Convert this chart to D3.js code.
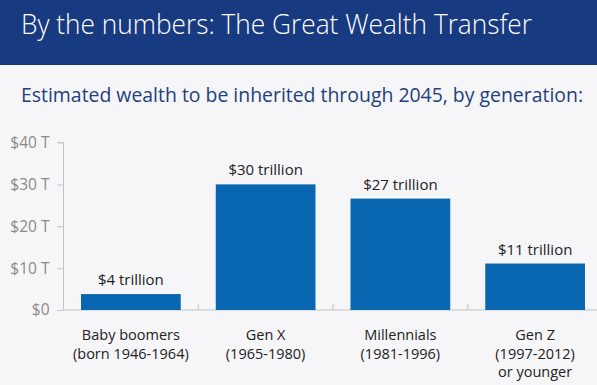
<!DOCTYPE html>
<html>
<head>
<meta charset="utf-8">
<script src="https://cdn.jsdelivr.net/npm/d3@7"></script>
<style>
  body { margin: 0; background: #f6f6f8; }
  svg { display: block; font-family: "Open Sans", "Noto Sans", sans-serif; }
</style>
</head>
<body>
<script>
// data
var categories = ["Baby boomers", "Gen X", "Millennials", "Gen Z"];
var categoryLines = [
  ["Baby boomers", "(born 1946-1964)"],
  ["Gen X", "(1965-1980)"],
  ["Millennials", "(1981-1996)"],
  ["Gen Z", "(1997-2012)", "or younger"]
];
var values = [3.8, 30, 26.6, 11.1];
var valueLabels = ["$4 trillion", "$30 trillion", "$27 trillion", "$11 trillion"];
var yTicks = [0, 10, 20, 30, 40];
var yTickLabels = ["$0", "$10 T", "$20 T", "$30 T", "$40 T"];

var width = 597,
  height = 385;
var margin = { top: 142.5, bottom: 75, left: 63.5, right: -5.5 };

var svg = d3.select('body')
  .append('svg')
  .attr('width', width)
  .attr('height', height)
  .style('background', '#f6f6f8');

// header band
svg.append('rect')
  .attr('x', 0).attr('y', 0)
  .attr('width', width).attr('height', 65)
  .attr('fill', '#183a80');

svg.append('text')
  .attr('x', 21).attr('y', 34)
  .attr('fill', '#ffffff')
  .style('font-size', '27px')
  .style('font-weight', 300)
  .attr('textLength', 511)
  .attr('lengthAdjust', 'spacingAndGlyphs')
  .text('By the numbers: The Great Wealth Transfer');

svg.append('text')
  .attr('x', 21).attr('y', 101.5)
  .attr('fill', '#233f7c')
  .style('font-size', '19.5px')
  .attr('textLength', 562)
  .attr('lengthAdjust', 'spacingAndGlyphs')
  .text('Estimated wealth to be inherited through 2045, by generation:');

// scales
var yScale = d3.scaleLinear()
  .domain([0, 40])
  .range([height - margin.bottom, margin.top]);

var xScale = d3.scaleBand()
  .domain(categories)
  .range([margin.left, width - margin.right])
  .paddingInner(0.26)
  .paddingOuter(0.13);

// y axis
var yAxis = svg.append('g')
  .attr('transform', `translate(${margin.left},0)`)
  .call(d3.axisLeft(yScale)
    .tickValues(yTicks)
    .tickSize(6)
    .tickPadding(8)
    .tickFormat(function(d, i) { return yTickLabels[i]; }));
yAxis.select('.domain').attr('stroke', '#c4c4c4').attr('d', `M-6,${yScale(40)}H0V${yScale(0)}`);
yAxis.selectAll('.tick line').attr('stroke', '#c4c4c4');
yAxis.selectAll('.tick text')
  .attr('fill', '#8a8a8a')
  .style('font-size', '15.5px')
  .style('font-family', '"Open Sans", "Noto Sans", sans-serif');

// baseline and category separators
svg.append('line')
  .attr('x1', margin.left).attr('x2', width)
  .attr('y1', yScale(0)).attr('y2', yScale(0))
  .attr('stroke', '#c4c4c4');

var step = xScale.step();
svg.selectAll('.sep')
  .data(categories.slice(1))
  .enter()
  .append('line')
  .attr('class', 'sep')
  .attr('x1', function(d) { return xScale(d) - (step - xScale.bandwidth()) / 2; })
  .attr('x2', function(d) { return xScale(d) - (step - xScale.bandwidth()) / 2; })
  .attr('y1', yScale(0) - 6)
  .attr('y2', yScale(0))
  .attr('stroke', '#c4c4c4');

// bars
svg.selectAll('.bar')
  .data(values)
  .enter()
  .append('rect')
  .attr('class', 'bar')
  .attr('x', function(d, i) { return xScale(categories[i]); })
  .attr('y', function(d) { return yScale(d); })
  .attr('width', xScale.bandwidth())
  .attr('height', function(d) { return yScale(0) - yScale(d); })
  .attr('fill', '#0966b0');

// value labels
svg.selectAll('.vlabel')
  .data(values)
  .enter()
  .append('text')
  .attr('class', 'vlabel')
  .attr('x', function(d, i) { return xScale(categories[i]) + xScale.bandwidth() / 2; })
  .attr('y', function(d) { return yScale(d) - 9; })
  .attr('text-anchor', 'middle')
  .attr('fill', '#222')
  .style('font-size', '15px')
  .text(function(d, i) { return valueLabels[i]; });

// category labels
categoryLines.forEach(function(lines, i) {
  var t = svg.append('text')
    .attr('text-anchor', 'middle')
    .attr('fill', '#222')
    .style('font-size', '14.5px');
  lines.forEach(function(line, j) {
    t.append('tspan')
      .attr('x', xScale(categories[i]) + xScale.bandwidth() / 2)
      .attr('y', yScale(0) + 30 + j * 18.5)
      .text(line);
  });
});
</script>
</body>
</html>
